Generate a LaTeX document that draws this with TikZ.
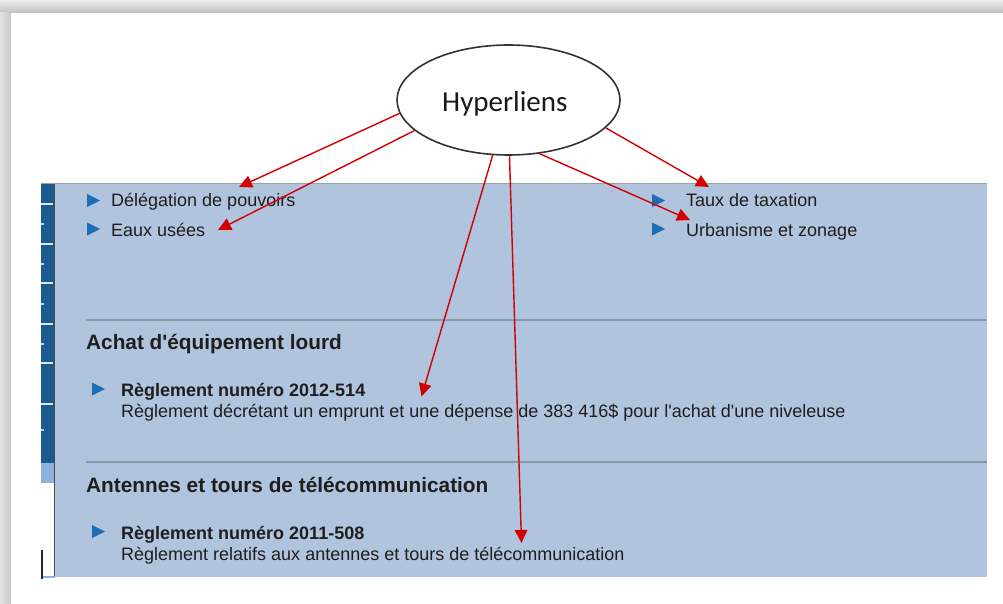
\documentclass[tikz,border=0pt]{standalone}
\usepackage{fontspec}
\setmainfont{Liberation Sans}
\newfontfamily\calib{Carlito}
\usetikzlibrary{shapes.geometric,arrows.meta}
\definecolor{panelblue}{HTML}{B0C4DE}
\definecolor{stripdark}{HTML}{1B5A8E}
\definecolor{striplight}{HTML}{8DB1DA}
\definecolor{sepgray}{HTML}{8C97A6}
\definecolor{bulblue}{HTML}{1F6DB3}
\definecolor{txtcol}{HTML}{1E1E1E}
\definecolor{arrred}{HTML}{D20000}
\tikzset{
  txt/.style={anchor=base west, inner sep=0pt, text=txtcol, font=\fontsize{18}{21}\selectfont},
  btxt/.style={anchor=base west, inner sep=0pt, text=txtcol, font=\fontsize{18}{21}\selectfont\bfseries},
  htxt/.style={anchor=base west, inner sep=0pt, text=txtcol, font=\fontsize{20.8}{24}\selectfont\bfseries},
  link/.style={draw=arrred, line width=1.4pt, -{Triangle[length=13pt,width=12.5pt]}, fill=arrred},
  bubble/.style={ellipse, draw=black!80, line width=1.6pt, fill=white, minimum width=223pt, minimum height=110pt, inner sep=0pt},
  bubtxt/.style={anchor=base west, inner sep=0pt, font=\calib\fontsize{29}{33}\selectfont, text=black!90}
}
\newcommand{\bulx}[2]{\fill[bulblue] (#1,#2-6.5) -- (#1+13,#2) -- (#1,#2+6.5) -- cycle;}
\begin{document}
\begin{tikzpicture}[x=1pt,y=-1pt]
\useasboundingbox (0,0) rectangle (1003,604);
% page shadow
\fill[gray!45] (0,0) rectangle (1003,604);
\shade[top color=gray!15, bottom color=gray!50] (0,0) rectangle (1003,13);
\shade[left color=gray!22, right color=gray!45] (0,13) rectangle (11,604);
\fill[white] (11,13) rectangle (1003,604);
% panel
\fill[panelblue] (55,183) rectangle (987,577);
\draw[gray!75, line width=1.5pt] (41,183.5) -- (987,183.5);
% left strip
\fill[stripdark] (41,184) rectangle (54,463);
\fill[striplight] (41,463) rectangle (54,483);
\draw[black!70, line width=1.2pt] (54.8,184) -- (54.8,577);
\draw[striplight, line width=1.2pt] (41,577) -- (55,577);
\draw[black!85, line width=1.2pt] (42,550) -- (42,579);
\foreach \yy in {204,244,283,324,363,404} {\draw[white!85!stripdark, line width=1.3pt] (41,\yy) -- (53,\yy);}
\foreach \yy in {224,264,304,344,430} {\draw[white!70!stripdark, line width=1.3pt] (41,\yy) -- (44,\yy);}
% separators
\draw[sepgray, line width=1.3pt] (86,320) -- (987,320);
\draw[sepgray, line width=1.3pt] (86,462) -- (987,462);
% bullets
\bulx{87}{200.5}
\bulx{87}{229}
\bulx{652}{200.5}
\bulx{652}{229}
\bulx{92}{389}
\bulx{92}{531.5}
% texts
\node[txt] (t1) at (111,207) {Délégation de pouvoirs};
\node[txt] (t2) at (111,236) {Eaux usées};
\node[txt] (t3) at (686,207) {Taux de taxation};
\node[txt] (t4) at (686,236) {Urbanisme et zonage};
\node[htxt] (h1) at (86,349) {Achat d\textquotesingle équipement lourd};
\node[btxt] (r1) at (121,396) {Règlement numéro 2012-514};
\node[txt] (d1) at (121,417) {Règlement décrétant un emprunt et une dépense de 383 416\$ pour l\textquotesingle achat d\textquotesingle une niveleuse};
\node[htxt] (h2) at (86,492) {Antennes et tours de télécommunication};
\node[btxt] (r2) at (121,539) {Règlement numéro 2011-508};
\node[txt] (d2) at (121,560) {Règlement relatifs aux antennes et tours de télécommunication};
% bubble
\node[bubble] (hl) at (508.5,100) {};
\node[bubtxt] (hltext) at (442,112) {Hyperliens};
% arrow targets
\coordinate (a1) at (239,187);
\coordinate (a2) at (218,230);
\coordinate (a3) at (421.5,396.5);
\coordinate (a4) at (521.5,543);
\coordinate (a5) at (690,220);
\coordinate (a6) at (709,187);
\draw[link] (hl.187) -- (a1);
\draw[link] (hl.198.5) -- (a2);
\draw[link] (hl.254.3) -- (a3);
\draw[link] (hl.271.6) -- (a4);
\draw[link] (hl.300.3) -- (a5);
\draw[link] (hl.344.1) -- (a6);
\end{tikzpicture}
\end{document}
